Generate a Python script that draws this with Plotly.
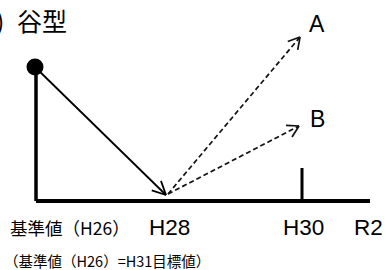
import numpy as np
import plotly.graph_objects as go

W, H = 390, 270
# schematic coordinates (x right, y up)
axis_x = [36, 370]
axis_y = [69, 69]
vert_x = [36, 36]
vert_y = [69, 203]
tick_x = [302, 302]
tick_y = [69, 102]
start_pt = (35, 203)
valley_pt = (166, 75)
dash_start = (168, 76)
target_A = (300, 233)
target_B = (299, 144)
tick_labels_x = [169, 303, 368]
tick_labels = ["H28", "H30", "R2"]
base_label = "基準値（H26）"
note_text = "（基準値（H26）=H31目標値）"
title_text = ")\u2002谷型"

fig = go.Figure()
JP = "Noto Sans CJK JP"
LAT = "Liberation Sans, Arial"

def line(xs, ys, width, color="black", dash="solid"):
    fig.add_trace(go.Scatter(x=xs, y=ys, mode="lines",
                             line=dict(color=color, width=width, dash=dash),
                             hoverinfo="skip", showlegend=False))

def arrow(p0, p1, width, dash="solid", color="black", head=12, ang=28):
    p0 = np.array(p0, float); p1 = np.array(p1, float)
    line([p0[0], p1[0]], [p0[1], p1[1]], width, color, dash)
    d = (p0 - p1) / np.linalg.norm(p0 - p1)
    a = np.radians(ang)
    for s in (1, -1):
        r = np.array([[np.cos(s*a), -np.sin(s*a)], [np.sin(s*a), np.cos(s*a)]])
        q = p1 + head * (r @ d)
        line([p1[0], q[0]], [p1[1], q[1]], width, color)

line(axis_x, axis_y, 4)
line(vert_x, vert_y, 3.5)
line(tick_x, tick_y, 3)
arrow(start_pt, valley_pt, 1.8, head=15, ang=26)
arrow(dash_start, target_A, 1.7, dash="5px,3px", color="#111", head=13, ang=30)
arrow(dash_start, target_B, 1.7, dash="5px,3px", color="#111", head=13, ang=30)
fig.add_trace(go.Scatter(x=[start_pt[0]], y=[start_pt[1]], mode="markers",
                         marker=dict(color="black", size=17),
                         hoverinfo="skip", showlegend=False))

for xv, t in zip(tick_labels_x, tick_labels):
    fig.add_annotation(x=xv, y=43, text=t, showarrow=False,
                       font=dict(size=22.5, color="black", family=LAT))
fig.add_annotation(x=8, y=43, text=base_label, showarrow=False, xanchor="left",
                   font=dict(size=17.5, color="black", family=JP))
fig.add_annotation(x=317, y=246, text="A", showarrow=False,
                   font=dict(size=23, color="black", family=LAT))
fig.add_annotation(x=317, y=151, text="B", showarrow=False,
                   font=dict(size=23, color="black", family=LAT))
fig.add_annotation(xref="paper", x=0, y=250, xshift=-6, text=title_text,
                   showarrow=False, xanchor="left",
                   font=dict(size=25, color="black", family=JP))
fig.add_annotation(x=2, y=10, text=note_text, showarrow=False,
                   xanchor="left",
                   font=dict(size=14.5, color="black", family=JP))

fig.update_layout(width=W, height=H, margin=dict(l=0, r=0, t=0, b=0),
                  paper_bgcolor="white", plot_bgcolor="white",
                  xaxis=dict(range=[0, W], visible=False, fixedrange=True),
                  yaxis=dict(range=[0, H], visible=False, fixedrange=True))
fig.write_html("out.html", config={"displayModeBar": False},
               post_script="document.body.style.margin='0';")
